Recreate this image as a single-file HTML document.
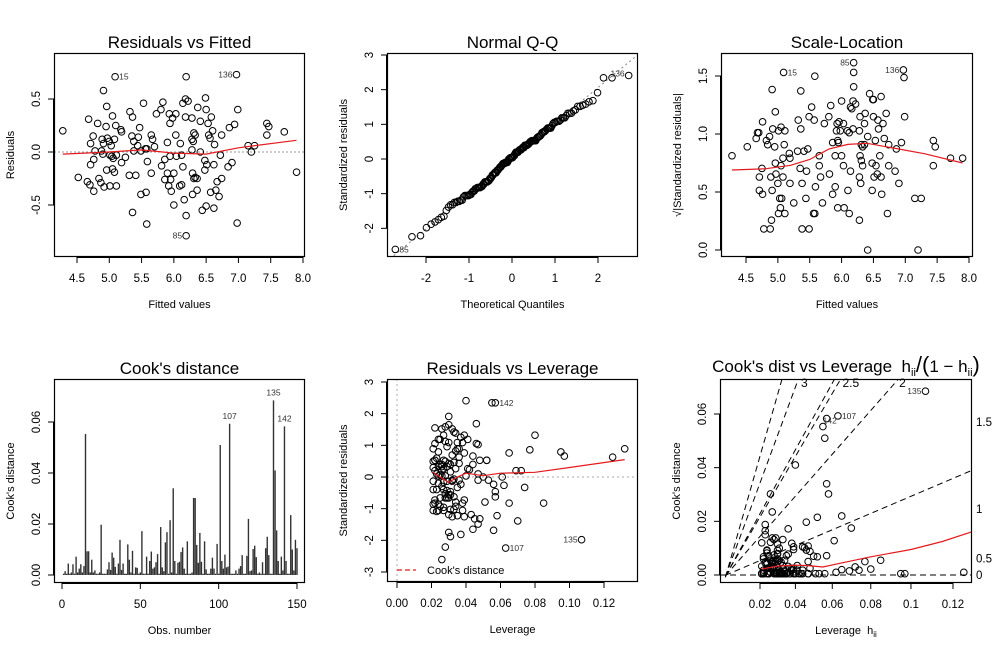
<!DOCTYPE html>
<html><head><meta charset="utf-8"><style>
html,body{margin:0;padding:0;background:#fff;}
svg{display:block;font-family:"Liberation Sans",Arial,sans-serif;}
</style></head><body>
<svg id="chart" width="1000" height="650" viewBox="0 0 1000 650" xmlns="http://www.w3.org/2000/svg"></svg>
<script>
const fitted=[4.28,4.91,4.96,5.05,4.68,4.82,4.95,5.32,5.36,5.53,
5.73,5.80,5.83,5.93,5.09,5.98,6.03,6.14,6.18,6.22,
6.18,6.28,6.37,6.41,6.49,6.50,6.58,6.53,6.99,6.94,
6.86,6.74,6.54,6.56,6.63,6.31,6.33,6.28,6.30,6.03,
5.94,5.90,5.65,5.67,5.47,5.45,5.35,5.38,5.44,5.18,
5.19,5.08,5.00,4.89,4.75,4.71,4.97,4.91,5.03,5.56,
5.38,5.49,5.58,7.15,7.25,7.20,7.44,7.47,7.44,7.71,
7.90,4.78,4.88,5.01,5.04,5.06,5.11,4.76,4.71,4.90,
4.52,4.66,4.70,4.76,6.19,4.84,4.87,4.92,4.96,5.01,
5.05,5.08,5.11,5.19,5.31,5.41,5.49,5.57,5.59,5.81,
5.86,5.36,5.86,5.90,5.92,5.95,5.58,5.96,5.94,6.00,
6.00,6.04,6.09,6.12,6.12,6.14,6.16,6.29,6.31,6.33,
6.36,6.29,6.36,6.41,6.44,6.48,6.48,6.51,6.50,6.57,
6.62,6.62,6.65,6.67,6.19,6.97,6.70,6.74,6.72,6.84,
6.90,6.19,6.98,6.28,5.10,5.25,5.70,6.10,5.65,6.60];
const resid=[0.20,0.58,0.43,0.34,0.31,0.27,0.24,0.38,0.33,0.46,
0.36,0.40,0.47,0.36,0.71,0.32,0.36,0.46,0.50,0.48,
0.33,0.32,0.42,0.29,0.51,0.40,0.33,0.27,0.40,0.26,
0.23,0.16,0.16,0.13,0.07,0.18,0.16,0.12,0.10,0.16,
0.27,0.09,0.16,0.12,0.23,0.14,0.15,0.10,0.06,0.21,
0.19,0.12,0.10,0.12,0.15,0.08,0.13,0.08,0.06,0.03,
0.01,0.01,0.03,0.06,0.06,0.00,0.27,0.24,0.16,0.19,
-0.19,0.01,0.01,-0.03,-0.04,-0.06,-0.03,-0.07,-0.12,-0.02,
-0.24,-0.28,-0.31,-0.37,-0.79,-0.25,-0.29,-0.33,-0.17,-0.32,
-0.16,-0.19,-0.32,-0.10,-0.22,-0.22,-0.40,-0.38,-0.09,-0.13,
-0.07,-0.57,-0.26,-0.20,-0.32,-0.26,-0.68,-0.37,-0.04,-0.20,
-0.50,-0.04,-0.32,-0.31,-0.03,-0.14,-0.45,-0.20,-0.25,-0.24,
-0.25,-0.40,-0.36,0.00,-0.55,-0.08,-0.17,-0.12,-0.51,-0.38,
-0.12,-0.53,-0.36,-0.28,-0.60,0.73,-0.42,-0.25,-0.03,-0.14,
-0.10,0.71,-0.67,0.02,0.25,-0.05,0.05,0.08,-0.20,0.20];
const leverage=[.097,.030,.033,.028,.047,.036,.024,.037,.035,.032,
.025,.027,.022,.041,.055,.046,.024,.026,.030,.028,
.038,.022,.034,.029,.046,.039,.030,.021,.080,.077,
.065,.048,.052,.036,.042,.023,.027,.031,.024,.022,
.035,.021,.022,.026,.039,.033,.028,.026,.022,.032,
.036,.044,.029,.025,.021,.034,.030,.027,.026,.047,
.024,.040,.023,.072,.069,.061,.132,.095,.052,.125,
.057,.026,.028,.032,.029,.024,.047,.037,.021,.033,
.051,.025,.031,.058,.026,.038,.027,.023,.030,.021,
.028,.033,.024,.035,.039,.022,.048,.032,.026,.029,
.056,.031,.024,.030,.027,.021,.063,.035,.032,.025,
.044,.021,.038,.033,.036,.031,.047,.028,.065,.034,
.022,.045,.030,.050,.037,.062,.031,.027,.056,.039,
.023,.030,.043,.034,.107,.040,.070,.085,.053,.057,
.074,.057,.028,.025,.034,.027,.031,.041,.029,.044];
const cookD=[.0005,.0015,.0005,.0045,.0005,.001,.0042,.0005,.0072,.001,
.0025,.0042,.001,.0035,.0553,.0093,.0093,.001,.006,.001,
.0018,.0005,.0005,.001,.0197,.0005,.0005,.0005,.0022,.005,
.002,.0088,.0068,.0032,.0005,.0045,.0138,.002,.0045,.0005,
.0005,.012,.006,.001,.0095,.0005,.003,.0028,.0005,.001,
.0172,.0005,.0005,.0072,.0005,.0055,.0092,.0025,.003,.005,
.0082,.0005,.0188,.003,.0015,.0128,.0168,.0005,.0215,.001,
.034,.0055,.0005,.0048,.0052,.009,.0108,.0025,.0005,.0132,
.0005,.0005,.001,.0302,.0302,.0118,.0048,.0165,.0052,.0005,
.0132,.0022,.0005,.0005,.0025,.0068,.0025,.0005,.0122,.0005,
.051,.0055,.0025,.008,.003,.0033,.0593,.0005,.0005,.0005,
.0018,.0005,.0025,.0035,.0078,.0005,.0005,.0075,.022,.0015,
.0018,.0102,.0115,.007,.0005,.001,.0005,.005,.0005,.0105,
.015,.0078,.0005,.0005,.0685,.041,.0175,.0055,.0005,.0072,
.0018,.0583,.0055,.0005,.0005,.0235,.01,.0018,.0138,.0105];
const residScale=3.3;
const loessRF_x=[4.28,5.0,5.5,6.0,6.5,7.0,7.9];
const loessRF_y=[-0.02,0.0,0.02,-0.01,-0.02,0.04,0.11];
const loessSL_x=[4.28,4.8,5.2,5.5,5.8,6.1,6.4,6.8,7.3,7.9];
const loessSL_y=[0.69,0.70,0.73,0.78,0.87,0.91,0.92,0.88,0.83,0.75];
const loessRL_x=[0.021,0.025,0.03,0.035,0.04,0.05,0.06,0.08,0.1,0.132];
const loessRL_y=[0.15,0.0,-0.17,0.0,0.12,0.04,0.12,0.15,0.3,0.55];
const loessCL_x=[0.021,0.03,0.04,0.047,0.055,0.065,0.08,0.1,0.115,0.132];
const loessCL_y=[0.0022,0.0033,0.0037,0.0035,0.003,0.0045,0.0068,0.0095,0.0125,0.017];
const contourSlopes=[2.17,1.68,1.12,1.06,0.705,0.264];
const contourLabels=["","3","","2.5","2",""];
const rightAxisVals=[0,0.5,1,1.5];
const rightAxisLabels=["0","0.5","1","1.5"];

const NS="http://www.w3.org/2000/svg";
const svg=document.getElementById('chart');
function mk(tag,attrs,parent){const e=document.createElementNS(NS,tag);for(const k in attrs)e.setAttribute(k,attrs[k]);(parent||svg).appendChild(e);return e;}
function tx(str,attrs,parent){const e=mk('text',attrs,parent);e.textContent=str;return e;}
function lin(a0,p0,a1,p1){return v=>p0+(v-a0)*(p1-p0)/(a1-a0);}
function pathFrom(xs,ys,sx,sy){return xs.map((v,i)=>(i?'L':'M')+sx(v).toFixed(1)+','+sy(ys[i]).toFixed(1)).join(' ');}
let clipId=0;
function frame(p){
  const g=mk('g',{});
  
  
  const t=tx(p.title,{x:(p.bx0+p.bx1)/2,y:p.by0-5,'font-size':17,'text-anchor':'middle',fill:'#000'},g);
  
  
  const xa=mk('g',{},g);
  
  
  const xs=p.xticks.map(p.sx);
  mk('line',{x1:xs[0],x2:xs[xs.length-1],y1:p.by1+0.5,y2:p.by1+0.5,stroke:'#000'},xa);
  p.xticks.forEach((v,i)=>{const x=p.sx(v);
    mk('line',{x1:x,x2:x,y1:p.by1,y2:p.by1+6,stroke:'#000'},xa);
    const l=tx(p.xlabels[i],{x:x,y:p.by1+25,'font-size':11.5,'text-anchor':'middle'},xa);
    
    });
  const ya=mk('g',{},g);
  
  
  const ys=p.yticks.map(p.sy);
  mk('line',{x1:p.bx0-0.5,x2:p.bx0-0.5,y1:ys[0],y2:ys[ys.length-1],stroke:'#000'},ya);
  p.yticks.forEach((v,i)=>{const y=p.sy(v);
    mk('line',{x1:p.bx0-6,x2:p.bx0,y1:y,y2:y,stroke:'#000'},ya);
    const l=tx(p.ylabels[i],{x:0,y:0,'font-size':11.5,'text-anchor':'middle',transform:`translate(${p.bx0-14},${y}) rotate(-90)`},ya);
    
    });
  const xl=tx(p.xlab,{x:(p.bx0+p.bx1)/2,y:p.by1+51,'font-size':11,'text-anchor':'middle'},g);
  
  
  const yl=tx(p.ylab,{x:0,y:0,'font-size':11,'text-anchor':'middle',transform:`translate(${p.bx0-40},${(p.by0+p.by1)/2}) rotate(-90)`},g);
  
  
  clipId++;
  const cp=mk('clipPath',{id:'c'+clipId},g);
  mk('rect',{x:p.bx0,y:p.by0,width:p.bx1-p.bx0,height:p.by1-p.by0},cp);
  const plot=mk('g',{'clip-path':`url(#c${clipId})`},g);
  
  
  const box=mk('rect',{x:p.bx0+0.5,y:p.by0+0.5,width:p.bx1-p.bx0-1,height:p.by1-p.by0-1,fill:'none',stroke:'#000','stroke-width':1.2},g);
  
  
  return {g,plot};
}
function pt(parent,x,y){const c=mk('circle',{cx:x,cy:y,r:3.3,fill:'none',stroke:'#000','stroke-width':1},parent);
  
  return c;}
function lab(parent,str,x,y,anchor){const l=tx(str,{x:x,y:y,'font-size':8.5,'text-anchor':anchor,fill:'#333'},parent);
  
  }
const stdres=resid.map(r=>r*residScale);
function rng(a,b,s){const o=[];for(let v=a;v<=b+1e-9;v+=s)o.push(+v.toFixed(4));return o;}

// Panel 1 Residuals vs Fitted
{const sx=lin(4.5,77,8.0,303), sy=lin(0,152,0.5,99);
 const P=frame({name:'residuals-vs-fitted-panel',bx0:54,bx1:305,by0:53,by1:257,sx,sy,
  xticks:rng(4.5,8,0.5),xlabels:rng(4.5,8,0.5).map(v=>v.toFixed(1)),yticks:[-0.5,0,0.5],ylabels:['-0.5','0.0','0.5'],
  title:'Residuals vs Fitted',xlab:'Fitted values',ylab:'Residuals'});
 const z=mk('line',{x1:54,x2:305,y1:sy(0),y2:sy(0),stroke:'#999','stroke-dasharray':'2,2'},P.plot);
 
 
 fitted.forEach((f,i)=>pt(P.plot,sx(f),sy(resid[i])));
 const lo=mk('path',{d:pathFrom(loessRF_x,loessRF_y,sx,sy),fill:'none',stroke:'#e41a1c','stroke-width':1.2},P.plot);
 
 
 lab(P.g,'15',sx(fitted[14])+4,sy(resid[14])+3,'start');
 lab(P.g,'136',sx(fitted[135])-4,sy(resid[135])+3,'end');
 lab(P.g,'85',sx(fitted[84])-4,sy(resid[84])+3,'end');}

// Panel 2 Normal Q-Q
function ncdf(x){const t=1/(1+0.2316419*Math.abs(x));const d=0.3989423*Math.exp(-x*x/2);
 let p=d*t*(0.3193815+t*(-0.3565638+t*(1.781478+t*(-1.821256+t*1.330274))));return x>0?1-p:p;}
function qnorm(p){let a=-6,b=6;for(let k=0;k<60;k++){const m=(a+b)/2;if(ncdf(m)<p)a=m;else b=m;}return (a+b)/2;}
{const sx=lin(0,512,2,598), sy=lin(0,159,3,55);
 const P=frame({name:'normal-qq-panel',bx0:387,bx1:638,by0:53,by1:257,sx,sy,
  xticks:[-2,-1,0,1,2],xlabels:['-2','-1','0','1','2'],yticks:[-2,-1,0,1,2,3],ylabels:['-2','-1','0','1','2','3'],
  title:'Normal Q-Q',xlab:'Theoretical Quantiles',ylab:'Standardized residuals'});
 const ref=mk('line',{x1:sx(-3.2),y1:sy(-3.2*1.02+0.02),x2:sx(3.2),y2:sy(3.2*1.02+0.02),stroke:'#888','stroke-dasharray':'2,3'},P.plot);
 
 
 const sorted=stdres.slice().sort((a,b)=>a-b), n=sorted.length;
 sorted.forEach((r,i)=>pt(P.plot,sx(qnorm((i+0.5)/n)),sy(r)));
 lab(P.g,'85',sx(qnorm(0.5/n))+4,sy(sorted[0])+3,'start');
 lab(P.g,'136',sx(qnorm((n-0.5)/n))-4,sy(sorted[n-1])+1,'end');}

// Panel 3 Scale-Location
{const sx=lin(4.5,746,8.0,969), sy=lin(0,250,1.5,76);
 const P=frame({name:'scale-location-panel',bx0:721,bx1:973,by0:53,by1:257,sx,sy,
  xticks:rng(4.5,8,0.5),xlabels:rng(4.5,8,0.5).map(v=>v.toFixed(1)),yticks:[0,0.5,1,1.5],ylabels:['0.0','0.5','1.0','1.5'],
  title:'Scale-Location',xlab:'Fitted values',ylab:'\u221A|Standardized residuals|'});
 fitted.forEach((f,i)=>pt(P.plot,sx(f),sy(Math.sqrt(Math.abs(stdres[i])))));
 const lo=mk('path',{d:pathFrom(loessSL_x,loessSL_y,sx,sy),fill:'none',stroke:'#e41a1c','stroke-width':1.2},P.plot);
 
 
 [[14,'15','start'],[84,'85','end'],[135,'136','end']].forEach(([i,s,a])=>lab(P.g,s,sx(fitted[i])+(a==='start'?4:-4),sy(Math.sqrt(Math.abs(stdres[i])))+3,a));}

// Panel 4 Cook's distance
{const sx=lin(0,62,150,297), sy=lin(0,575,0.06,422);
 const P=frame({name:'cooks-distance-panel',bx0:54,bx1:305,by0:379,by1:583,sx,sy,
  xticks:[0,50,100,150],xlabels:['0','50','100','150'],yticks:[0,0.02,0.04,0.06],ylabels:['0.00','0.02','0.04','0.06'],
  title:"Cook's distance",xlab:'Obs. number',ylab:"Cook's distance"});
 cookD.forEach((c,i)=>{const b=mk('line',{x1:sx(i+1),x2:sx(i+1),y1:sy(0),y2:sy(c),stroke:'#333','stroke-width':1.4},P.plot);
  
  });
 [[106,'107'],[134,'135'],[141,'142']].forEach(([i,s])=>lab(P.g,s,sx(i+1),sy(cookD[i])-5,'middle'));}

// Panel 5 Residuals vs Leverage
{const sx=lin(0,397,0.12,604), sy=lin(0,477,3,382);
 const P=frame({name:'residuals-vs-leverage-panel',bx0:387,bx1:638,by0:379,by1:582,sx,sy,
  xticks:rng(0,0.12,0.02),xlabels:rng(0,0.12,0.02).map(v=>v.toFixed(2)),yticks:[-3,-2,-1,0,1,2,3],ylabels:['-3','-2','-1','0','1','2','3'],
  title:'Residuals vs Leverage',xlab:'Leverage',ylab:'Standardized residuals'});
 const h0=mk('line',{x1:387,x2:638,y1:sy(0),y2:sy(0),stroke:'#aaa','stroke-dasharray':'2,3'},P.plot);
 
 
 const v0=mk('line',{x1:sx(0),x2:sx(0),y1:379,y2:582,stroke:'#aaa','stroke-dasharray':'2,3'},P.plot);
 
 
 leverage.forEach((h,i)=>pt(P.plot,sx(h),sy(stdres[i])));
 const lo=mk('path',{d:pathFrom(loessRL_x,loessRL_y,sx,sy),fill:'none',stroke:'#e41a1c','stroke-width':1.2},P.plot);
 
 
 [[141,'142'],[106,'107']].forEach(([i,s])=>lab(P.g,s,sx(leverage[i])+4,sy(stdres[i])+3,'start'));
 lab(P.g,'135',sx(leverage[134])-4,sy(stdres[134])+3,'end');
 const lg=mk('g',{},P.g);
 
 
 mk('line',{x1:397,x2:416,y1:570,y2:570,stroke:'#e41a1c','stroke-dasharray':'5,3','stroke-width':1.2},lg);
 tx("Cook's distance",{x:427,y:574,'font-size':11},lg);}

// Panel 6 Cook's dist vs Leverage
{const g=h=>h/(1-h);
 const sxg=lin(0.020408,760,0.136364,953), sx=h=>sxg(g(h)), sy=lin(0,575,0.06,414);
 const P=frame({name:'cooks-vs-leverage-panel',bx0:720,bx1:972,by0:379,by1:583,sx,sy,
  xticks:rng(0.02,0.12,0.02),xlabels:['0.02','0.04','0.06','0.08','0.1','0.12'],yticks:[0,0.02,0.04,0.06],ylabels:['0.00','0.02','0.04','0.06'],
  title:'',xlab:'',ylab:"Cook's distance"});
 const tt=tx('',{x:846,y:372,'font-size':17,'text-anchor':'middle'},P.g);
 
 
 tt.innerHTML="Cook's dist vs Leverage&#160;&#160;h<tspan font-size='11' dy='4'>ii</tspan><tspan dy='-4' font-size='22'>/(</tspan>1 \u2212 h<tspan font-size='11' dy='4'>ii</tspan><tspan dy='-4' font-size='22'>)</tspan>";
 const xt=tx('',{x:846,y:634,'font-size':11,'text-anchor':'middle'},P.g);
 
 
 xt.innerHTML="Leverage&#160;&#160;h<tspan font-size='8' dy='3'>ii</tspan>";
 const gmax=(972-760)/1664+0.020408;
 const zl=mk('line',{x1:720,x2:972,y1:sy(0),y2:sy(0),stroke:'#000','stroke-dasharray':'6,4'},P.plot);
 
 
 contourSlopes.forEach((s,i)=>{const c=mk('line',{x1:sxg(-0.0004),y1:sy(-0.0004*s),x2:sxg(0.2),y2:sy(0.2*s),stroke:'#000','stroke-dasharray':'6,4'},P.plot);
  
  
  if(contourLabels[i]){const gx=(0.0716)/s;const l=tx(contourLabels[i],{x:sxg(gx)+4,y:sy(0.0705)+1,'font-size':12,'text-anchor':'start'},P.g);
   
   }});
 rightAxisVals.forEach((r,i)=>{const l=tx(rightAxisLabels[i],{x:976,y:sy(r*r/6*gmax*(r>1.2?1.03:1))+4,'font-size':11.5},P.g);
  
  });
 leverage.forEach((h,i)=>pt(P.plot,sx(h),sy(cookD[i])));
 const lo=mk('path',{d:pathFrom(loessCL_x,loessCL_y,sx,sy),fill:'none',stroke:'#e41a1c','stroke-width':1.2},P.plot);
 
 
 lab(P.g,'135',sx(leverage[134])-4,sy(cookD[134])+3,'end');
 lab(P.g,'107',sx(leverage[106])+4,sy(cookD[106])+3,'start');
 lab(P.g,'142',sx(leverage[141])-4,sy(cookD[141])+5,'start');}
</script>
</body></html>
